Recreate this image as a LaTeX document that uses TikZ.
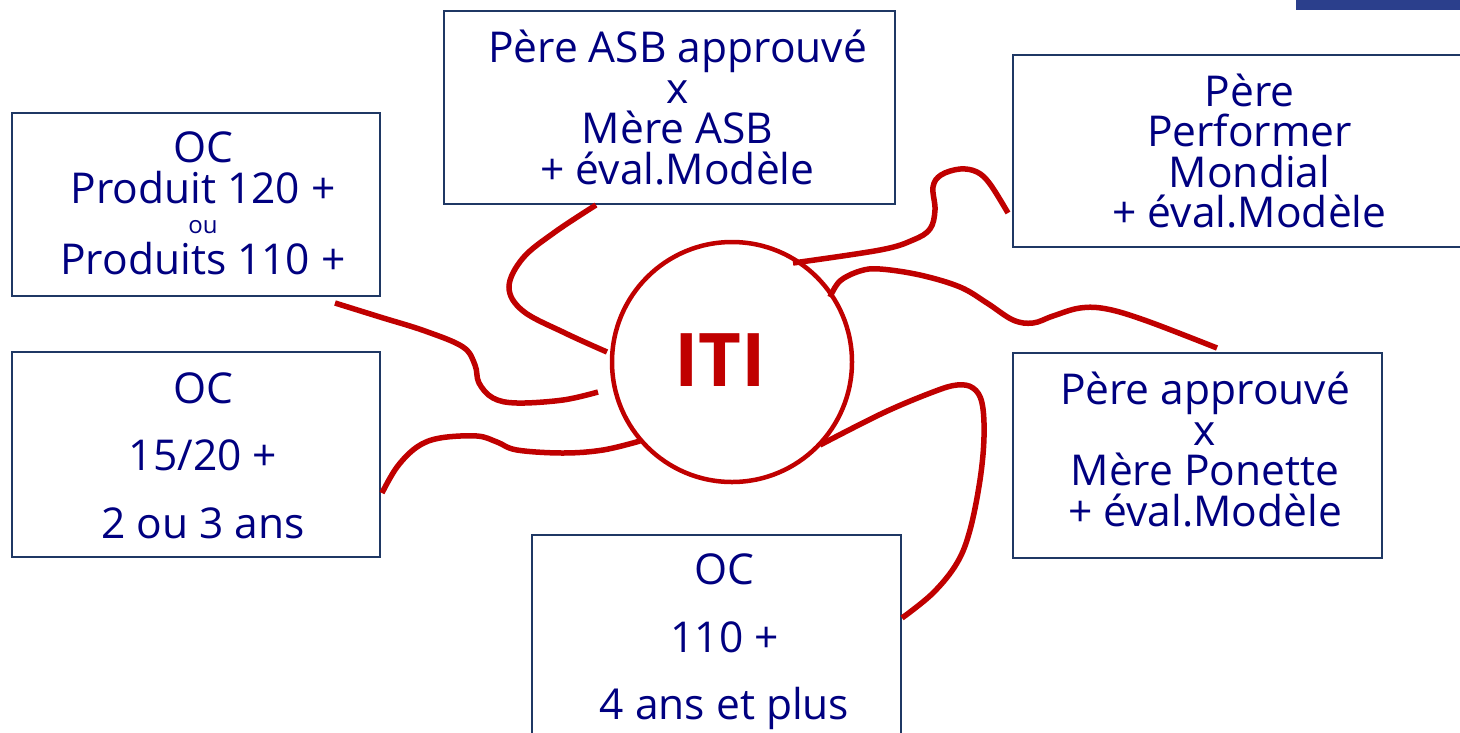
\documentclass[tikz,border=0pt]{standalone}
\usepackage{fontspec}
\setmainfont{Open Sans}
\definecolor{itired}{HTML}{C00000}
\definecolor{txtnavy}{HTML}{000080}
\definecolor{boxnavy}{HTML}{1F3864}
\definecolor{banner}{HTML}{2B3F8C}
\tikzset{
  boxnode/.style={draw=boxnavy, line width=2pt, fill=white, inner sep=0pt},
  txtnode/.style={text=txtnavy, align=center, inner sep=0pt, font=\fontsize{42.5}{40.5}\selectfont},
  txtwide/.style={txtnode, font=\fontsize{42.5}{67.5}\selectfont},
  wire/.style={draw=itired, line width=5.5pt, smooth, tension=0.6},
}
\begin{document}
\begin{tikzpicture}[x=1pt, y=-1pt]
\useasboundingbox (0,0) rectangle (1460,732);
\fill[white] (0,0) rectangle (1460,732);
\fill[banner] (1296,0) rectangle (1460,10);

% boxes
\node[boxnode, minimum width=451, minimum height=193] (asb) at (669.5,107.5) {};
\node[txtnode] (asbt) at ([xshift=8]asb.center) {Père ASB approuvé\\x\\Mère ASB\\+ éval.Modèle};

\node[boxnode, minimum width=368, minimum height=183] (prod) at (196,204.5) {};
\node[txtnode] (prodt) at ([xshift=7,yshift=1]prod.center) {OC\\Produit 120 +\\[-10pt]{\fontsize{24}{24}\selectfont ou}\\Produits 110 +};

\node[boxnode, minimum width=368, minimum height=205] (oca) at (196,454.5) {};
\node[txtwide] (ocat) at ([xshift=7,yshift=-1]oca.center) {OC\\15/20 +\\2 ou 3 ans};

\node[boxnode, minimum width=369, minimum height=214] (ocb) at (716.5,642) {};
\node[txtwide] (ocbt) at ([xshift=8]ocb.center) {OC\\110 +\\4 ans et plus};

\node[boxnode, minimum width=459, minimum height=192] (perf) at (1242.5,151) {};
\node[txtnode] (perft) at ([xshift=7]perf.center) {Père\\Performer\\Mondial\\+ éval.Modèle};

\node[boxnode, minimum width=369, minimum height=205] (pon) at (1197.5,455.5) {};
\node[txtnode] (pont) at ([xshift=7.5,yshift=6]pon.center) {Père approuvé\\x\\Mère Ponette\\+ éval.Modèle};

% centre
\node[circle, draw=itired, line width=4.5pt, fill=white, minimum size=240, inner sep=0pt] (iti) at (732,362) {};
\node[text=itired, inner sep=0pt, font=\fontsize{74}{74}\selectfont\bfseries] (itit) at ([xshift=-12,yshift=2]iti.center) {ITI};

% connector end points
\coordinate (a1) at (596,205);  \coordinate (a2) at (607,352);
\coordinate (b1) at (335,303);  \coordinate (b2) at (598,392);
\coordinate (c1) at (382,493);  \coordinate (c2) at (640,441);
\coordinate (d1) at (793,263);  \coordinate (d2) at (1008,213);
\coordinate (e1) at (830,297);  \coordinate (e2) at (1217,348);
\coordinate (f1) at (820,445);  \coordinate (f2) at (902,618);

\draw[wire] plot coordinates {(a1) (555,232) (523,258) (509,287) (523,311) (565,333) (a2)};
\draw[wire] plot coordinates {(b1) (380,317) (425,331) (463,347) (475,365) (479,383) (493,398) (517,403) (563,400) (b2)};
\draw[wire] plot coordinates {(c1) (397,467) (417,447) (440,438) (477,436) (497,442) (517,450) (563,453) (603,450) (c2)};
\draw[wire] plot coordinates {(d1) (880,250) (913,240) (930,229) (935,210) (933,187) (941,175) (960,169) (977,172) (990,184) (d2)};
\draw[wire] plot coordinates {(e1) (840,281) (860,271) (880,269) (920,275) (960,287) (987,303) (1013,320) (1033,323) (1053,316) (1080,308) (1107,309) (1147,321) (e2)};
\draw[wire] plot coordinates {(f1) (883,413) (933,392) (957,385) (973,388) (982,403) (984,437) (980,480) (970,530) (957,563) (933,593) (f2)};
\end{tikzpicture}
\end{document}
